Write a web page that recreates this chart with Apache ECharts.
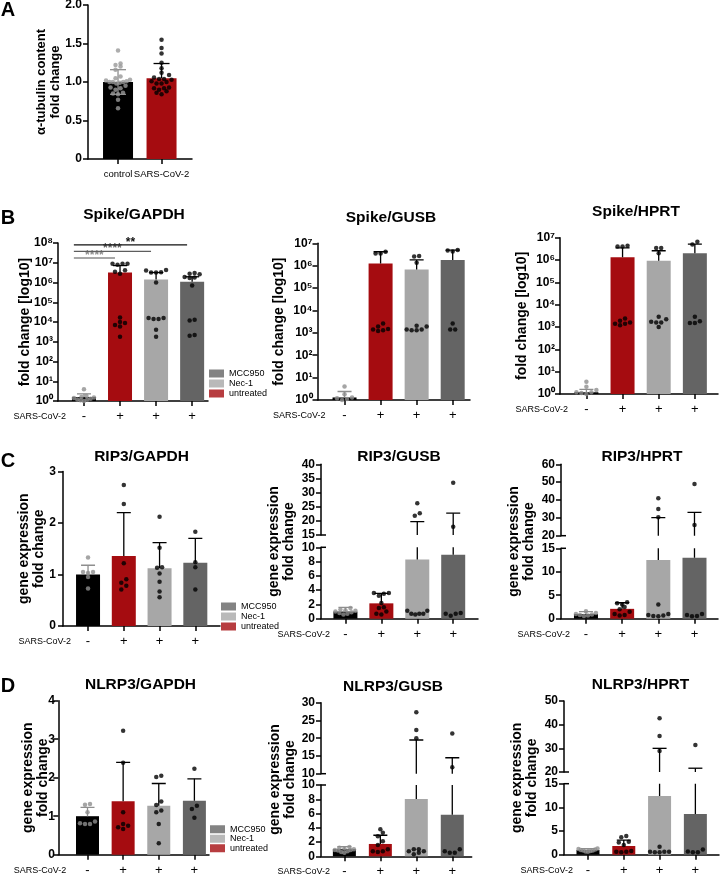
<!doctype html>
<html>
<head>
<meta charset="utf-8">
<title>SARS-CoV-2 fold change panels</title>
<script src="https://cdn.jsdelivr.net/npm/echarts@6/dist/echarts.min.js"></script>
<style>
html,body{margin:0;padding:0;background:#fff}
#chart{width:720px;height:876px}
</style>
</head>
<body>
<div id="chart"></div>
<script>
// ---------- data ----------
var groupLabels = ['-', '+', '+', '+'];
var legendNames = ['MCC950', 'Nec-1', 'untreated'];

// A: alpha-tubulin
var aCats = ['control', 'SARS-CoV-2'];
var aMeans = [1.0, 1.05];
var aErrHi = [1.16, 1.24];
var aErrLo = [0.84, 1.05];
var aControlPts = [1.41, 1.24, 1.22, 1.2, 1.16, 1.07, 1.05, 1.02, 1.0, 1.0, 0.99, 1.0, 0.98, 1.01, 0.95, 0.93, 0.92, 0.86, 0.85, 0.84, 0.77, 0.66, 0.9, 1.03];
var aSarsPts = [1.55, 1.44, 1.37, 1.25, 1.18, 1.12, 1.09, 1.06, 1.04, 1.04, 1.03, 1.0, 0.98, 0.98, 0.93, 0.92, 0.92, 0.9, 0.86, 0.84, 0.88, 1.01];

// B: Spike (order: control, untreated, Nec-1, MCC950)
var spikeGapdhMeans = [1.6, 3.2e6, 1.4e6, 1.1e6];
var spikeGapdhErr = [2.3, 7.2e6, 3.2e6, 1.95e6];
var spikeGapdhPts = [
  [3.9, 1.8, 1.6, 1.5, 1.4, 1.3, 1.2, 1.1, 1.2, 1.0],
  [9e6, 9e6, 9e6, 8e6, 4.2e6, 3.5e6, 2.8e6, 1.7e4, 7e3, 9e3, 6e3, 1e4, 1.8e3],
  [4e6, 4.3e6, 3.2e6, 3.2e6, 3.3e6, 1e6, 1.4e4, 1.6e4, 1.4e4, 1.6e4, 4e3, 1.8e3],
  [2.8e6, 3e6, 2.6e6, 1.8e6, 1.7e6, 1.9e6, 7e5, 1.2e4, 1.3e4, 2e3, 2.2e3]
];
var spikeGapdhSig = ['****', '****', '**'];
var spikeGapdhSigTo = [2, 3, 4];

var spikeGusbMeans = [1.3, 1.26e6, 6.8e5, 1.78e6];
var spikeGusbErr = [2.4, 4.2e6, 1.8e6, 5e6];
var spikeGusbPts = [
  [4, 1.8, 1.2, 1.1, 1.3, 1.0],
  [4.2e6, 3.5e6, 3.5e6, 1.2e3, 1.9e3, 2.6e3, 1.4e3, 1.5e3, 1.3e3],
  [2.7e6, 2.6e6, 1.35e6, 1.4e3, 1.9e3, 1.4e3, 2.1e3, 1.3e3, 1.3e3],
  [5e6, 4.3e6, 4.8e6, 2.6e3, 1.4e3, 1.4e3]
];

var spikeHprtMeans = [1.2, 1.32e6, 9.3e5, 2e6];
var spikeHprtErr = [1.6, 3.5e6, 2.6e6, 5.2e6];
var spikeHprtPts = [
  [3.5, 2.1, 1.5, 1.2, 1.1, 1.0, 1.2],
  [4.4e6, 4e6, 4e6, 1.9e3, 1.2e3, 2.4e3, 1.6e3, 1.4e3, 1.4e3],
  [3.5e6, 3.5e6, 2e6, 2.9e3, 1.7e3, 2.2e3, 1.6e3, 1e3, 1.6e3],
  [5e6, 6.6e6, 2.9e3, 1.5e3, 1.8e3, 1.5e3]
];

// C: RIP3
var rip3GapdhMeans = [1.0, 1.36, 1.12, 1.23];
var rip3GapdhErr = [1.18, 2.2, 1.62, 1.7];
var rip3GapdhPts = [
  [1.33, 1.05, 1.05, 1.03, 0.95, 0.73],
  [2.74, 2.37, 1.22, 0.91, 0.84, 0.78, 0.71],
  [2.12, 1.52, 1.13, 1.14, 1.02, 0.86, 0.67, 0.56],
  [1.83, 1.24, 1.14, 0.71]
];

var rip3GusbMeans = [1.0, 2.15, 8.3, 8.95];
var rip3GusbErr = [1.6, 3.55, 19.7, 22.7];
var rip3GusbPts = [
  [1.5, 1.2, 1.1, 1.0, 0.9, 0.8, 0.7, 1.3, 0.6],
  [3.6, 3.2, 3.5, 3.6, 2.2, 1.6, 1.0, 0.6, 0.7, 1.5],
  [26.2, 22.7, 21.8, 1.1, 0.7, 0.7, 1.1, 0.7, 0.6],
  [33.5, 17.9, 0.8, 0.4, 0.7, 0.7]
];

var rip3HprtMeans = [1.0, 2.1, 12.5, 13.0];
var rip3HprtErr = [1.5, 3.4, 30.1, 33.1];
var rip3HprtPts = [
  [1.6, 1.2, 1.0, 0.8, 0.7, 0.9, 0.6],
  [3.5, 3.3, 3.0, 2.5, 1.5, 1.0, 0.8, 0.7, 2.0],
  [41, 35, 30.3, 1.0, 0.8, 0.6, 0.5, 0.7, 3.0],
  [49, 26, 0.6, 0.5, 1.0, 0.8]
];

// D: NLRP3
var nlrp3GapdhMeans = [1.0, 1.39, 1.27, 1.40];
var nlrp3GapdhErr = [1.23, 2.4, 1.85, 1.97];
var nlrp3GapdhPts = [
  [1.32, 1.3, 1.1, 0.8, 0.8, 0.82, 0.86],
  [3.22, 2.39, 1.1, 0.8, 0.67, 0.71, 0.75],
  [2.05, 2.02, 1.38, 1.29, 1.15, 0.8, 0.3, 1.1],
  [2.23, 1.27, 1.19, 0.96]
];

var nlrp3GusbMeans = [1.0, 1.73, 8.04, 5.84];
var nlrp3GusbErr = [1.35, 2.95, 19.5, 14.5];
var nlrp3GusbPts = [
  [1.3, 1.1, 1.0, 0.9, 0.8, 0.7, 0.6, 1.2, 0.5, 0.9],
  [3.8, 3.3, 2.8, 2.1, 1.6, 0.7, 0.6, 0.7, 1.0],
  [27.3, 22.3, 20.0, 1.0, 0.7, 1.0, 0.7, 0.3, 0.5],
  [21.3, 11.8, 0.5, 0.7, 1.0, 0.5]
];

var nlrp3HprtMeans = [1.0, 1.84, 12.4, 8.6];
var nlrp3HprtErr = [1.3, 3.1, 30.0, 21.6];
var nlrp3HprtPts = [
  [1.2, 1.1, 1.0, 0.9, 0.8, 0.7, 1.3, 0.9, 0.6],
  [3.95, 3.7, 2.75, 2.6, 2.05, 0.5, 0.6, 0.6, 0.8],
  [42.7, 35.2, 28.9, 1.7, 0.5, 0.6, 0.6, 0.6, 0.5],
  [31.4, 0.5, 0.7, 1.1, 0.5]
];

// ---------- styles / layout ----------
var FONT = '"Liberation Sans", Arial, sans-serif';
var NARROW = '"Liberation Sans Narrow", "Arial Narrow", "Liberation Sans", Arial, sans-serif';
var RED = '#a50c10';
var LIGHT = '#a7a7a7';
var DARK = '#646464';
var CTRL_PT = '#8e8e8e';
var barColors = ['#000000', RED, LIGHT, DARK];
var ptColors = [CTRL_PT, '#000', '#000', '#000'];
var errColors = [CTRL_PT, '#000', '#000', '#000'];
var legendColors = [DARK, LIGHT, RED];
var sup = ['\u2070', '\u00b9', '\u00b2', '\u00b3', '\u2074', '\u2075', '\u2076', '\u2077', '\u2078', '\u2079'];

var panels = [
  {title: 'Spike/GAPDH', tx: 134, ty: 215, means: spikeGapdhMeans, err: spikeGapdhErr, pts: spikeGapdhPts,
   kind: 'log', left: 58, top: 243, width: 150, height: 158, xMin: 0.28, xMax: 4.44, exp: 8,
   yName: 'fold change [log10]', nameGap: 25, labelMargin: 5, barWidth: 24, sig: true},
  {title: 'Spike/GUSB', tx: 391, ty: 218, means: spikeGusbMeans, err: spikeGusbErr, pts: spikeGusbPts,
   kind: 'log', left: 317.5, top: 243.3, width: 152.5, height: 156.7, xMin: 0.25, xMax: 4.48, exp: 7,
   yName: 'fold change [log10]', nameGap: 31, labelMargin: 5, barWidth: 24},
  {title: 'Spike/HPRT', tx: 636, ty: 212, means: spikeHprtMeans, err: spikeHprtErr, pts: spikeHprtPts,
   kind: 'log', left: 560, top: 237.7, width: 158, height: 156.3, xMin: 0.27, xMax: 4.64, exp: 7,
   yName: 'fold change [log10]', nameGap: 30, labelMargin: 5, barWidth: 24},
  {title: 'RIP3/GAPDH', tx: 141.5, ty: 457, means: rip3GapdhMeans, err: rip3GapdhErr, pts: rip3GapdhPts,
   kind: 'lin', left: 63, top: 471.5, width: 157, height: 154.5, xMin: 0.30, xMax: 4.69, yMax: 3, interval: 1,
   yName: 'gene expression\nfold change', nameGap: 16, labelMargin: 7, barWidth: 24},
  {title: 'RIP3/GUSB', tx: 399, ty: 457, means: rip3GusbMeans, err: rip3GusbErr, pts: rip3GusbPts,
   kind: 'broken', left: 321, width: 157, xMin: 0.32, xMax: 4.69,
   low: {top: 547.3, height: 71.4, max: 10, interval: 2}, high: {top: 464.3, height: 70.7, min: 15, max: 40, interval: 5},
   yName: 'gene expression\nfold change', nameGap: 24, labelMargin: 6, barWidth: 24},
  {title: 'RIP3/HPRT', tx: 642, ty: 457, means: rip3HprtMeans, err: rip3HprtErr, pts: rip3HprtPts,
   kind: 'broken', left: 561, width: 157, xMin: 0.31, xMax: 4.65,
   low: {top: 548.3, height: 70.4, max: 15, interval: 5}, high: {top: 464.3, height: 71.4, min: 20, max: 60, interval: 10},
   yName: 'gene expression\nfold change', nameGap: 24, labelMargin: 6, barWidth: 24},
  {title: 'NLRP3/GAPDH', tx: 140.5, ty: 685, means: nlrp3GapdhMeans, err: nlrp3GapdhErr, pts: nlrp3GapdhPts,
   kind: 'lin', left: 58.3, top: 700.7, width: 150.7, height: 154, xMin: 0.18, xMax: 4.41, yMax: 4, interval: 1,
   yName: 'gene expression\nfold change', nameGap: 8, labelMargin: 3.5, barWidth: 23},
  {title: 'NLRP3/GUSB', tx: 393, ty: 687, means: nlrp3GusbMeans, err: nlrp3GusbErr, pts: nlrp3GusbPts,
   kind: 'broken', left: 321, width: 150.7, xMin: 0.35, xMax: 4.54,
   low: {top: 785, height: 71.3, max: 10, interval: 2}, high: {top: 702.7, height: 71, min: 10, max: 30, interval: 5},
   yName: 'gene expression\nfold change', nameGap: 23, labelMargin: 6, barWidth: 23},
  {title: 'NLRP3/HPRT', tx: 640.5, ty: 685, means: nlrp3HprtMeans, err: nlrp3HprtErr, pts: nlrp3HprtPts,
   kind: 'broken', left: 564, width: 155, xMin: 0.33, xMax: 4.66,
   low: {top: 783.7, height: 71, max: 15, interval: 5}, high: {top: 701, height: 71, min: 20, max: 50, interval: 10},
   yName: 'gene expression\nfold change', nameGap: 24, labelMargin: 6, barWidth: 23}
];

var grids = [], xAxes = [], yAxes = [], series = [], titles = [], legends = [];

function lineStyle() { return {color: '#000', width: 1.5}; }

function addGrid(l, t, w, h) {
  grids.push({left: l, top: t, width: w, height: h, outerBoundsMode: 'none', containLabel: false});
  return grids.length - 1;
}

function groupXAxis(gi, p, cats, labelSize, margin, nameGap) {
  var vals = cats.map(function (c, i) { return i + 1; });
  return {
    type: 'value', gridIndex: gi, min: p.xMin, max: p.xMax,
    axisLine: {show: true, onZero: false, lineStyle: lineStyle()},
    axisTick: {show: true, length: 5, customValues: vals, lineStyle: lineStyle()},
    axisLabel: {show: true, customValues: vals, margin: margin, hideOverlap: false,
      color: '#000', fontFamily: FONT, fontSize: labelSize,
      formatter: function (v) { return cats[Math.round(v) - 1]; }},
    splitLine: {show: false},
    name: nameGap == null ? '' : 'SARS-CoV-2', nameLocation: 'start', nameGap: nameGap, nameMoveOverlap: false,
    nameTextStyle: {fontFamily: NARROW, fontSize: 9, color: '#000', align: 'right', verticalAlign: 'top', padding: [11, 0, 0, 0]}
  };
}

function hiddenXAxis(gi, p) {
  return {type: 'value', gridIndex: gi, min: p.xMin, max: p.xMax, show: false};
}

function linYAxis(gi, min, max, interval, fmt, labelMargin) {
  return {
    type: 'value', gridIndex: gi, min: min, max: max, interval: interval,
    axisLine: {show: true, onZero: false, lineStyle: lineStyle()},
    axisTick: {show: true, length: 5, lineStyle: lineStyle()},
    axisLabel: {margin: labelMargin || 6, color: '#000', fontFamily: FONT, fontWeight: 'bold', fontSize: 12, formatter: fmt},
    splitLine: {show: false}
  };
}

function nameStyle(size) {
  return {fontFamily: FONT, fontWeight: 'bold', fontSize: size, lineHeight: size + 1, color: '#000'};
}

function nameOnlyYAxis(gi, name, gap) {
  return {
    type: 'value', gridIndex: gi, min: 0, max: 1,
    axisLine: {show: false}, axisTick: {show: false}, axisLabel: {show: false}, splitLine: {show: false},
    name: name, nameLocation: 'middle', nameGap: gap, nameMoveOverlap: false, nameTextStyle: nameStyle(14)
  };
}

// spread overlapping points sideways (beeswarm-like), result in px
function spreadX(vals, pxOf, maxHalf) {
  var idx = vals.map(function (v, i) { return i; })
    .sort(function (a, b) { return pxOf(vals[a]) - pxOf(vals[b]); });
  var off = [];
  var i = 0;
  while (i < idx.length) {
    var start = pxOf(vals[idx[i]]), j = i;
    while (j + 1 < idx.length && pxOf(vals[idx[j + 1]]) - start < 4) j++;
    var n = j - i + 1;
    var step = n > 1 ? Math.min(5, 2 * maxHalf / (n - 1)) : 0;
    var slots = [];
    for (var k = 0; k < n; k++) slots.push(k);
    slots.sort(function (a, b) { return Math.abs(a - (n - 1) / 2) - Math.abs(b - (n - 1) / 2); });
    for (k = 0; k < n; k++) off[idx[i + k]] = (slots[k] - (n - 1) / 2) * step;
    i = j + 1;
  }
  return off;
}

function pushBars(gi, means, barW) {
  series.push({
    type: 'bar', xAxisIndex: gi, yAxisIndex: gi, barWidth: barW, clip: true, z: 2, silent: true,
    data: means.map(function (m, i) { return {value: [i + 1, m], itemStyle: {color: barColors[i]}}; })
  });
}

function pushErr(gi, means, hi, lo, colors, capHalf) {
  series.push({
    type: 'custom', xAxisIndex: gi, yAxisIndex: gi, clip: true, z: 3, silent: true,
    encode: {x: 0, y: 1},
    data: means.map(function (m, i) { return [i + 1, m, hi[i], lo ? lo[i] : m, i]; }),
    renderItem: function (params, api) {
      var x = api.value(0), m = api.value(1), h = api.value(2), l = api.value(3);
      var c = colors[api.value(4)];
      var pm = api.coord([x, m]), ph = api.coord([x, h]), pl = api.coord([x, l]);
      var st = {stroke: c, lineWidth: 1.3};
      var kids = [
        {type: 'line', shape: {x1: pm[0], y1: pm[1], x2: ph[0], y2: ph[1]}, style: st},
        {type: 'line', shape: {x1: ph[0] - capHalf, y1: ph[1], x2: ph[0] + capHalf, y2: ph[1]}, style: st}
      ];
      if (l < m) {
        kids.push({type: 'line', shape: {x1: pm[0], y1: pm[1], x2: pl[0], y2: pl[1]}, style: st});
        kids.push({type: 'line', shape: {x1: pl[0] - capHalf, y1: pl[1], x2: pl[0] + capHalf, y2: pl[1]}, style: st});
      }
      return {type: 'group', children: kids};
    }
  });
}

function pushPts(gi, pts, colors, pxOf, pxPerUnit, maxHalf) {
  var data = [];
  pts.forEach(function (vals, g) {
    var off = spreadX(vals, pxOf, maxHalf);
    vals.forEach(function (v, i) {
      data.push({value: [g + 1 + off[i] / pxPerUnit, v], itemStyle: {color: colors[g]}});
    });
  });
  series.push({type: 'scatter', xAxisIndex: gi, yAxisIndex: gi, symbolSize: 4.5, clip: true, z: 4, silent: true, data: data});
}

// short inner tick marking the end of a broken-axis segment
function pushBreakTick(gi, x, y) {
  series.push({
    type: 'custom', xAxisIndex: gi, yAxisIndex: gi, clip: false, z: 5, silent: true,
    encode: {x: 0, y: 1}, data: [[x, y]],
    renderItem: function (params, api) {
      var pt = api.coord([api.value(0), api.value(1)]);
      return {type: 'line', shape: {x1: pt[0], y1: pt[1], x2: pt[0] + 5, y2: pt[1]}, style: {stroke: '#000', lineWidth: 1.5}};
    }
  });
}

function addTitle(text, cx, cy, size) {
  titles.push({text: text, left: cx, top: cy - size * 0.55, textAlign: 'center', padding: 0,
    textStyle: {fontFamily: FONT, fontWeight: 'bold', fontSize: size, color: '#000'}});
}

// ---------- panel A ----------
(function () {
  var p = {xMin: 0.31, xMax: 2.70};
  var gi = addGrid(88, 5, 104, 154);
  xAxes.push(groupXAxis(gi, p, aCats, 9.5, 10, null));
  var y = linYAxis(gi, 0, 2, 0.5, function (v) { return v === 0 ? '0' : v.toFixed(1); }, 6);
  y.name = '\u03b1-tubulin content\nfold change';
  y.nameLocation = 'middle';
  y.nameGap = 26;
  y.nameMoveOverlap = false;
  y.nameTextStyle = nameStyle(13);
  yAxes.push(y);
  pushBars(gi, aMeans, 30);
  pushErr(gi, aMeans, aErrHi, aErrLo, [CTRL_PT, '#000'], 8);
  var ppu = 104 / (p.xMax - p.xMin);
  pushPts(gi, [aControlPts, aSarsPts], ['#999', '#000'], function (v) { return v * 77; }, ppu, 12);
  addTitle('A', 8, 11, 20);
})();

// ---------- panels B-D ----------
panels.forEach(function (p) {
  var ppu = p.width / (p.xMax - p.xMin);
  var half = p.barWidth / 2 - 2;
  addTitle(p.title, p.tx, p.ty, 15.5);
  if (p.kind === 'broken') {
    var lo = addGrid(p.left, p.low.top, p.width, p.low.height);
    xAxes.push(groupXAxis(lo, p, groupLabels, 13, 9, -9));
    yAxes.push(linYAxis(lo, 0, p.low.max, p.low.interval, null, p.labelMargin));
    var hi = addGrid(p.left, p.high.top, p.width, p.high.height);
    xAxes.push(hiddenXAxis(hi, p));
    yAxes.push(linYAxis(hi, p.high.min, p.high.max, p.high.interval, null, p.labelMargin));
    var nm = addGrid(p.left, p.high.top, p.width, p.low.top + p.low.height - p.high.top);
    xAxes.push(hiddenXAxis(nm, p));
    yAxes.push(nameOnlyYAxis(nm, p.yName, p.nameGap));
    var pxOf = function (v) {
      return v <= p.low.max ? v * p.low.height / p.low.max
        : p.low.height + 12 + (v - p.high.min) * p.high.height / (p.high.max - p.high.min);
    };
    pushBars(lo, p.means, p.barWidth);
    pushErr(lo, p.means, p.err, null, errColors, 7);
    pushErr(hi, p.means, p.err, null, errColors, 7);
    pushPts(lo, p.pts, ptColors, pxOf, ppu, half);
    pushPts(hi, p.pts, ptColors, pxOf, ppu, half);
    pushBreakTick(lo, p.xMin, p.low.max);
    pushBreakTick(hi, p.xMin, p.high.min);
    return;
  }
  var gi = addGrid(p.left, p.top, p.width, p.height);
  xAxes.push(groupXAxis(gi, p, groupLabels, 13, 9, -8));
  var y, pxOfMain;
  if (p.kind === 'log') {
    y = {
      type: 'log', logBase: 10, gridIndex: gi, min: 1, max: Math.pow(10, p.exp), splitNumber: p.exp,
      axisLine: {show: true, onZero: false, lineStyle: lineStyle()},
      axisTick: {show: true, length: 5, lineStyle: lineStyle()},
      axisLabel: {margin: p.labelMargin, color: '#000', fontFamily: FONT, fontWeight: 'bold', fontSize: 12,
        formatter: function (v) { return '10' + sup[Math.round(Math.log10(v))]; }},
      splitLine: {show: false}
    };
    pxOfMain = function (v) { return Math.log10(v) * p.height / p.exp; };
  } else {
    y = linYAxis(gi, 0, p.yMax, p.interval, null, p.labelMargin);
    pxOfMain = function (v) { return v * p.height / p.yMax; };
  }
  y.name = p.yName;
  y.nameLocation = 'middle';
  y.nameGap = p.nameGap;
  y.nameMoveOverlap = false;
  y.nameTextStyle = nameStyle(14);
  yAxes.push(y);
  pushBars(gi, p.means, p.barWidth);
  pushErr(gi, p.means, p.err, null, errColors, 7);
  pushPts(gi, p.pts, ptColors, pxOfMain, ppu, half);

  if (p.sig) {
    var sigColors = ['#8a8a8a', '#5e5e5e', '#111111'];
    series.push({
      type: 'custom', xAxisIndex: gi, yAxisIndex: gi, clip: false, z: 5, silent: true,
      encode: {x: 0, y: 1},
      data: spikeGapdhSigTo.map(function (to, i) { return [0.72, Math.pow(10, 7.24 + 0.335 * i), to - 0.14, i]; }),
      renderItem: function (params, api) {
        var i = api.value(3);
        var a = api.coord([api.value(0), api.value(1)]);
        var b = api.coord([api.value(2), api.value(1)]);
        var c = sigColors[i];
        return {type: 'group', children: [
          {type: 'line', shape: {x1: a[0], y1: a[1], x2: b[0], y2: b[1]}, style: {stroke: c, lineWidth: 1.3}},
          {type: 'text', style: {text: spikeGapdhSig[i], x: (a[0] + b[0]) / 2, y: a[1] + 3.5, align: 'center',
            verticalAlign: 'bottom', fill: c, font: 'bold 12px ' + FONT}}
        ]};
      }
    });
  }
});

addTitle('B', 8, 219, 20);
addTitle('C', 8, 462, 20);
addTitle('D', 8, 687, 20);

// legend entries (empty series only carry name + colour)
legendNames.forEach(function (n, i) {
  series.push({type: 'scatter', name: n, xAxisIndex: 0, yAxisIndex: 0, data: [], itemStyle: {color: legendColors[i]}});
});
[[209, 368.5, 10], [221, 601.5, 10], [210, 824.5, 9.5]].forEach(function (pos) {
  legends.push({
    orient: 'vertical', left: pos[0], top: pos[1], icon: 'rect', itemWidth: 15, itemHeight: 8, itemGap: 0,
    padding: 0, selectedMode: false, data: legendNames,
    textStyle: {fontFamily: NARROW, fontSize: 9, lineHeight: pos[2], height: pos[2], color: '#000'}
  });
});

var chart = echarts.init(document.getElementById('chart'));
chart.setOption({
  animation: false,
  backgroundColor: '#fff',
  title: titles,
  legend: legends,
  grid: grids,
  xAxis: xAxes,
  yAxis: yAxes,
  series: series
});
</script>
</body>
</html>
